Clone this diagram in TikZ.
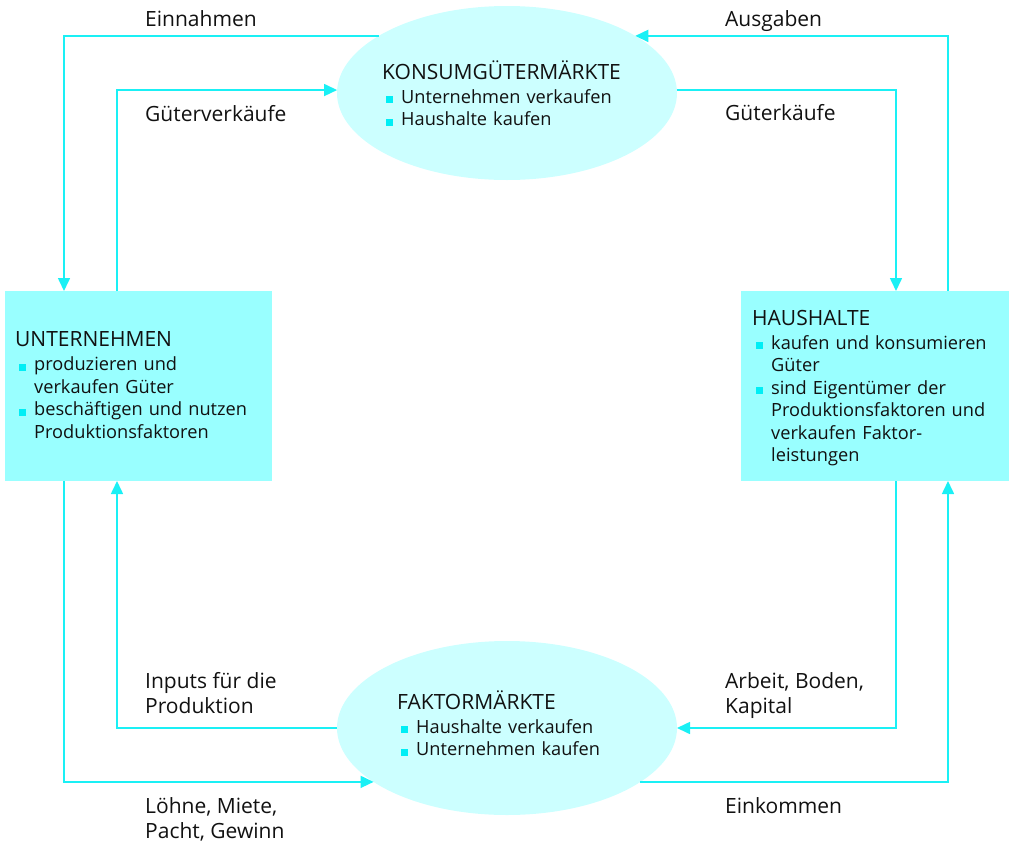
\documentclass[tikz,border=0pt]{standalone}
\usepackage{fontspec}
\setmainfont{Open Sans}
\usetikzlibrary{arrows.meta,shapes.geometric}
\definecolor{lin}{HTML}{1AF0F5}
\definecolor{boxc}{HTML}{99FFFF}
\definecolor{ellc}{HTML}{CCFFFF}
\definecolor{bulc}{HTML}{00EEF5}
\definecolor{txtc}{HTML}{111111}
\newcommand{\ttl}[1]{{\fontsize{21}{24}\selectfont\noindent #1\par}\vspace{1.5pt}}
\newcommand{\bitem}[1]{\par\noindent\hangindent=19pt\hangafter=1\makebox[19pt][l]{\hspace{4pt}\textcolor{bulc}{\rule{7pt}{7pt}}}#1\par}
\tikzset{
  ell/.style={ellipse, fill=ellc, minimum width=340pt, minimum height=174pt, inner sep=0pt, outer sep=0pt},
  boxn/.style={rectangle, fill=boxc, inner sep=0pt, outer sep=0pt},
  intxt/.style={anchor=base west, inner sep=0pt, text width=250pt, align=left, text=txtc, font=\fontsize{18.2}{22.5}\selectfont},
  lab/.style={anchor=base west, inner sep=0pt, align=left, text=txtc, font=\fontsize{21}{25}\selectfont},
  flow/.style={draw=lin, line width=1.6pt, -{Triangle[length=13pt,width=12pt]}}
}
\begin{document}
\begin{tikzpicture}[x=1pt,y=-1pt]
\useasboundingbox (0,0) rectangle (1013,844);
% markets
\node[ell] (km) at (507,93) {};
\node[ell] (fm) at (507,728) {};
\node[intxt] (kmt) at (382,79) {\ttl{KONSUMGÜTERMÄRKTE}\bitem{Unternehmen verkaufen}\bitem{Haushalte kaufen}};
\node[intxt] (fmt) at (397,709) {\ttl{FAKTORMÄRKTE}\bitem{Haushalte verkaufen}\bitem{Unternehmen kaufen}};
% boxes
\node[boxn, minimum width=267pt, minimum height=190pt] (un) at (138.5,386) {};
\node[boxn, minimum width=268pt, minimum height=190pt] (hh) at (875,386) {};
\node[intxt] (unt) at (15,346.5) {\ttl{UNTERNEHMEN}\bitem{produzieren und\newline verkaufen Güter}\bitem{beschäftigen und nutzen\newline Produktionsfaktoren}};
\node[intxt] (hht) at (752,325) {\ttl{HAUSHALTE}\bitem{kaufen und konsumieren\newline Güter}\bitem{sind Eigentümer der\newline Produktionsfaktoren und\newline verkaufen Faktor-\newline leistungen}};
% connectors
\draw[flow] (km.156) -| ([xshift=59pt]un.north west);
\draw[flow] ([xshift=112pt]un.north west) |- (km.179);
\draw[flow] ([xshift=207pt]hh.north west) |- (km.24);
\draw[flow] (km.1) -| ([xshift=155pt]hh.north west);
\draw[flow] (fm.west) -| ([xshift=112pt]un.south west);
\draw[flow] ([xshift=59pt]un.south west) |- (fm.202);
\draw[flow] ([xshift=155pt]hh.south west) |- (fm.east);
\draw[flow] (fm.338) -| ([xshift=207pt]hh.south west);
% labels
\node[lab] (l1) at (145,26) {Einnahmen};
\node[lab] (l2) at (145,121) {Güterverkäufe};
\node[lab] (l3) at (725,26) {Ausgaben};
\node[lab] (l4) at (725,120) {Güterkäufe};
\node[lab] (l5) at (145,713) {Inputs für die\\Produktion};
\node[lab] (l6) at (145,838) {Löhne, Miete,\\Pacht, Gewinn};
\node[lab] (l7) at (725,713) {Arbeit, Boden,\\Kapital};
\node[lab] (l8) at (725,813) {Einkommen};
\end{tikzpicture}
\end{document}
